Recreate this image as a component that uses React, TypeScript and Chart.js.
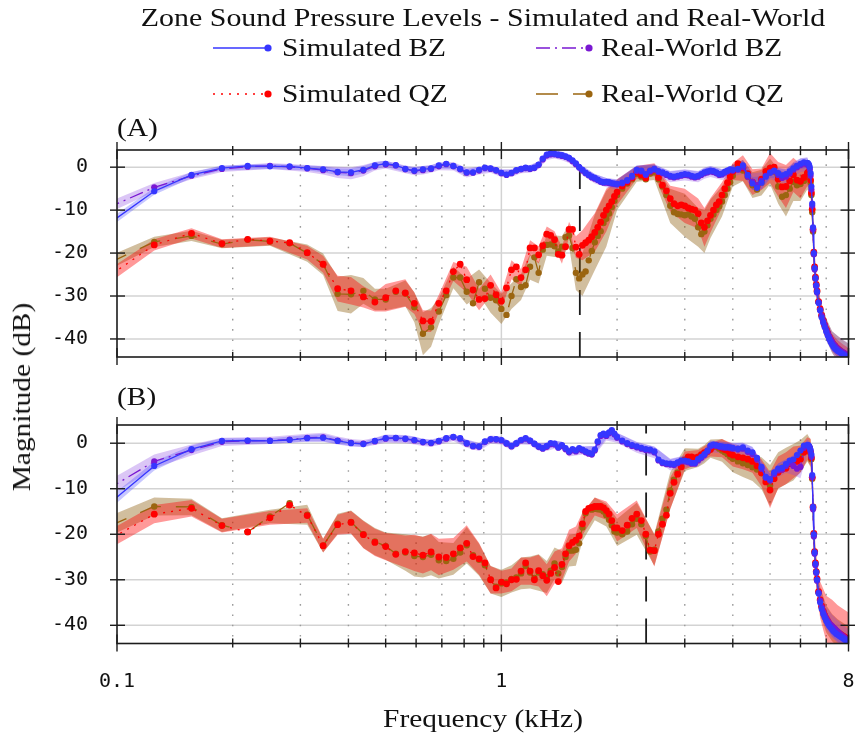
import React, { useEffect, useRef } from "react";
import { Chart, registerables } from "chart.js";

Chart.register(...registerables);

// ---------------- data (frequency in kHz, level in dB) ----------------
const FREQ_KHZ = [
  0.09375, 0.125, 0.15625, 0.1875, 0.21875, 0.25, 0.28125, 0.3125, 0.34375, 0.375,
  0.40625, 0.4375, 0.46875, 0.5, 0.53125, 0.5625, 0.59375, 0.625, 0.65625, 0.6875,
  0.71875, 0.75, 0.78125, 0.8125, 0.84375, 0.875, 0.90625, 0.9375, 0.96875, 1.0,
  1.03125, 1.0625, 1.09375, 1.125, 1.15625, 1.1875, 1.21875, 1.25, 1.28125, 1.3125,
  1.34375, 1.375, 1.40625, 1.4375, 1.46875, 1.5, 1.53125, 1.5625, 1.59375, 1.625,
  1.65625, 1.6875, 1.71875, 1.75, 1.78125, 1.8125, 1.84375, 1.875, 1.90625, 1.9375,
  1.96875, 2.0,
  2.0625, 2.125, 2.1875, 2.25, 2.3125, 2.375, 2.4375, 2.5, 2.5625, 2.625,
  2.6875, 2.75, 2.8125, 2.875, 2.9375, 3.0, 3.0625, 3.125, 3.1875, 3.25,
  3.3125, 3.375, 3.4375, 3.5, 3.5625, 3.625, 3.6875, 3.75, 3.8125, 3.875,
  3.9375, 4.0,
  4.125, 4.25, 4.375, 4.5, 4.625, 4.75, 4.875, 5.0, 5.125, 5.25,
  5.375, 5.5, 5.625, 5.75, 5.875, 6.0, 6.125, 6.25,
  6.28125, 6.3125, 6.34375, 6.375, 6.40625, 6.4375, 6.46875, 6.5, 6.53125, 6.5625, 6.59375, 6.625,
  6.6875, 6.75, 6.8125, 6.875, 6.9375, 7.0, 7.0625, 7.125, 7.1875, 7.25, 7.3125, 7.375, 7.4375, 7.5,
  7.5625, 7.625, 7.6875, 7.75, 7.8125, 7.875, 7.9375, 8.0,
];

// ---- panel (A) ----
const A_SIM_BZ = [
  -13.6, -5.6, -1.8, -0.2, 0.3, 0.2, 0.2, -0.2, -0.5, -1.1,
  -1.2, -0.6, 0.4, 0.8, 0.5, -0.4, -0.8, -0.5, -0.3, 0.4,
  0.8, 0.3, -0.4, -1.2, -1.2, -0.6, -0.1, -0.3, -0.7, -1.3,
  -1.7, -1.3, -0.7, -0.4, -0.1, -0.3, -0.1, 0.6, 2.0, 2.9,
  3.2, 3.1, 2.9, 2.8, 2.5, 2.2, 1.6, 0.9, 0.0, -0.6,
  -1.3, -1.8, -2.2, -2.5, -2.9, -3.3, -3.5, -3.4, -3.5, -3.7,
  -3.8, -3.9,
  -3.6, -3.0, -2.0, -0.6, -0.8, -1.6, -0.8, -0.4, -0.9, -1.2,
  -1.6, -2.0, -2.2, -2.0, -1.8, -1.6, -1.7, -2.0, -2.2, -2.0,
  -1.6, -1.2, -1.0, -0.8, -0.9, -1.2, -1.6, -1.5, -1.1, -0.8,
  -0.5, -0.6,
  -0.4, 0.4, -1.8, -3.8, -4.8, -3.6, -2.2, -1.3, -0.8, -1.4,
  -1.9, -1.6, -1.0, -0.3, 0.3, 0.8, 1.1, 1.0,
  0.9, 0.6, 0.0, -1.4, -4.5, -8.5, -14.0, -20.0, -23.5, -25.8, -27.5, -29.0,
  -31.6, -33.4, -35.0, -36.2, -37.3, -38.3, -39.2, -40.0, -40.7, -41.3, -41.8, -42.2, -42.5, -42.8,
  -43.0, -43.2, -43.4, -43.6, -43.8, -44.0, -44.2, -44.4,
];
const A_REAL_BZ = [
  -9.6, -4.7, -2.0, -0.4, 0.1, 0.3, 0.1, -0.3, -0.7, -1.2,
  -1.4, -0.8, 0.2, 0.6, 0.4, -0.5, -0.9, -0.7, -0.4, 0.2,
  0.7, 0.2, -0.5, -1.3, -1.3, -0.8, -0.2, -0.4, -0.8, -1.4,
  -1.8, -1.4, -0.8, -0.5, -0.2, -0.4, -0.2, 0.5, 1.8, 2.7,
  3.0, 3.0, 2.8, 2.6, 2.4, 2.0, 1.4, 0.7, -0.1, -0.8,
  -1.4, -1.9, -2.4, -2.7, -3.0, -3.4, -3.6, -3.6, -3.7, -3.8,
  -3.9, -4.0,
  -3.8, -3.2, -2.3, -0.9, -1.0, -1.8, -1.0, -0.6, -1.1, -1.4,
  -1.8, -2.2, -2.4, -2.2, -2.0, -1.8, -1.9, -2.2, -2.4, -2.2,
  -1.8, -1.4, -1.2, -1.0, -1.1, -1.4, -1.8, -1.7, -1.3, -1.0,
  -0.7, -0.8,
  -0.6, 0.0, -2.2, -3.4, -4.2, -3.2, -2.0, -1.2, -1.0, -1.8,
  -2.5, -2.2, -1.5, -0.6, 0.0, 0.5, 0.8, 0.7,
  0.5, 0.2, -0.5, -2.0, -5.2, -9.0, -14.5, -20.3, -23.8, -26.0, -27.7, -29.2,
  -31.5, -33.2, -34.6, -35.8, -36.8, -37.8, -38.6, -39.4, -40.1, -40.7, -41.2, -41.6, -42.0, -42.3,
  -42.6, -42.8, -43.0, -43.2, -43.4, -43.6, -43.8, -44.0,
];
const A_SIM_QZ = [
  -25.8, -18.1, -15.4, -17.8, -16.8, -17.2, -17.6, -19.9, -22.6, -28.3,
  -28.8, -30.2, -31.4, -30.4, -28.8, -29.3, -31.7, -35.8, -35.9, -31.7,
  -28.8, -24.3, -22.6, -26.2, -28.6, -30.8, -30.6, -27.5, -29.7, -31.2,
  -28.1, -23.9, -23.2, -25.7, -23.9, -18.8, -18.8, -20.4, -18.3, -15.6,
  -15.9, -16.9, -20.3, -20.5, -18.5, -14.5, -14.5, -18.6, -20.3, -18.2,
  -17.6, -17.0, -16.2, -15.2, -14.0, -12.8, -11.2, -10.0, -9.0, -8.0,
  -6.8, -5.8,
  -4.4, -3.5, -2.5, -1.2, -1.8, -2.5, -1.0, -0.6, -2.4, -4.2,
  -5.5, -7.3, -8.5, -9.0, -8.8, -9.0, -9.5, -9.8, -10.0, -10.8,
  -13.0, -14.0, -12.5, -11.2, -10.0, -8.8, -8.0, -6.5, -5.0, -3.6,
  -2.2, -1.0,
  0.8, -0.2, -1.5, -3.5, -4.5, -2.8, -1.0, -0.2, 0.0, -2.8,
  -4.6, -4.5, -3.2, -1.8, -3.0, -3.3, -2.4, -1.4,
  -1.2, -1.0, -1.6, -3.0, -6.0, -9.8, -14.5, -19.8, -23.2, -25.6, -27.3, -28.8,
  -31.3, -33.0, -34.5, -35.7, -36.8, -37.8, -38.7, -39.5, -40.2, -40.8, -41.3, -41.7, -42.0, -42.3,
  -42.6, -42.9, -43.1, -43.3, -43.5, -43.7, -43.9, -44.1,
];
const A_REAL_QZ = [
  -22.6, -17.4, -16.0, -17.9, -16.9, -17.3, -17.7, -20.0, -22.6, -29.5,
  -29.6, -28.8, -30.8, -30.8, -29.0, -29.4, -32.6, -38.8, -37.3, -33.6,
  -29.8, -25.7, -25.7, -29.0, -31.7, -26.8, -28.3, -30.4, -31.0, -33.0,
  -34.4, -30.0, -26.1, -27.9, -27.5, -23.2, -21.0, -24.6, -19.2, -18.1,
  -18.0, -18.4, -19.6, -18.5, -16.3, -15.9, -18.8, -24.6, -25.9, -25.0,
  -24.3, -21.7, -19.5, -17.5, -16.0, -14.9, -13.0, -12.0, -10.8, -9.3,
  -7.8, -6.5,
  -5.0, -3.8, -2.8, -1.6, -2.2, -2.8, -1.5, -1.2, -2.8, -4.5,
  -6.5, -9.0, -10.5, -10.9, -11.0, -11.2, -11.0, -11.5, -12.0, -14.0,
  -15.6, -15.0, -13.5, -12.0, -11.0, -10.0, -9.1, -8.0, -6.5, -5.0,
  -3.5, -2.0,
  0.2, -0.8, -2.2, -4.2, -5.2, -3.6, -1.8, -1.0, -1.0, -4.5,
  -6.9, -6.5, -5.0, -3.4, -4.2, -3.9, -3.2, -2.2,
  -2.0, -1.8, -2.4, -3.6, -6.5, -10.5, -15.0, -20.2, -23.5, -25.9, -27.6, -29.0,
  -31.4, -33.1, -34.6, -35.8, -36.8, -37.7, -38.6, -39.4, -40.1, -40.7, -41.2, -41.6, -42.0, -42.3,
  -42.6, -42.9, -43.1, -43.3, -43.5, -43.7, -43.9, -44.1,
];

// ---- panel (B) ----
const B_SIM_BZ = [
  -13.8, -5.0, -1.3, 0.5, 0.6, 0.5, 0.7, 1.1, 1.2, 0.5,
  0.0, -0.2, 0.5, 1.1, 1.2, 1.0, 0.7, 0.3, 0.1, 0.5,
  1.1, 1.4, 1.1, 0.0, -0.6, -0.7, 0.4, 0.9, 0.9, 0.7,
  0.0, -0.6, 0.0, 0.7, 1.1, 0.6, -0.1, -0.7, -1.1, -0.6,
  0.0, -0.1, -0.9, -0.4, -1.1, -1.8, -1.3, -1.6, -1.1, -1.4,
  -1.8, -2.1, -2.3, -1.4, 0.4, 1.8, 2.1, 1.8, 2.4, 2.9,
  2.1, 1.4,
  0.6, 0.0, -0.4, -0.7, -1.0, -1.3, -1.4, -1.8, -3.6, -4.2,
  -4.4, -4.5, -4.6, -4.2, -3.8, -3.8, -4.0, -4.3, -4.3, -3.5,
  -3.0, -2.4, -1.6, -0.5, -0.3, -0.4, -0.6, -0.7, -0.8, -0.8,
  -0.9, -1.0,
  -1.2, -0.9, -1.6, -2.0, -3.2, -5.2, -7.4, -7.9, -6.4, -5.6,
  -5.4, -4.6, -3.8, -3.6, -2.6, -1.6, -0.5, -0.4,
  -0.4, -0.6, -0.9, -1.5, -2.5, -7.0, -14.0, -20.0, -24.0, -26.5, -28.3, -30.0,
  -33.0, -35.0, -36.4, -37.5, -38.3, -39.0, -39.6, -40.1, -40.5, -40.9, -41.3, -41.6, -41.9, -42.1,
  -42.3, -42.5, -42.7, -42.9, -43.1, -43.3, -43.5, -43.7,
];
const B_REAL_BZ = [
  -10.3, -4.0, -1.5, 0.3, 0.5, 0.6, 0.8, 1.2, 1.3, 0.6,
  0.1, -0.1, 0.4, 1.0, 1.1, 0.9, 0.6, 0.2, 0.0, 0.4,
  1.0, 1.3, 1.0, -0.1, -0.7, -0.8, 0.3, 0.8, 0.8, 0.6,
  -0.1, -0.7, -0.1, 0.6, 1.0, 0.5, -0.2, -0.8, -1.2, -0.8,
  -0.2, -0.3, -1.0, -0.6, -1.3, -2.0, -1.5, -1.8, -1.3, -1.6,
  -2.0, -2.3, -2.5, -1.6, 0.2, 1.6, 1.9, 1.6, 2.2, 2.7,
  1.9, 1.2,
  0.4, -0.2, -0.6, -0.9, -1.2, -1.5, -1.6, -2.0, -3.8, -4.4,
  -4.6, -4.7, -4.8, -4.4, -4.0, -4.0, -4.2, -4.5, -4.5, -3.8,
  -3.2, -2.6, -1.8, -0.7, -0.5, -0.6, -0.8, -0.9, -1.0, -1.0,
  -1.1, -1.2,
  -1.4, -1.2, -1.9, -2.4, -3.6, -5.6, -7.6, -8.2, -6.8, -6.0,
  -5.8, -5.0, -4.4, -5.0, -5.6, -5.2, -1.0, -0.6,
  -0.6, -0.8, -1.2, -1.8, -3.0, -7.5, -14.5, -20.5, -24.3, -26.8, -28.5, -30.2,
  -32.8, -34.6, -36.0, -37.0, -37.8, -38.5, -39.0, -39.5, -39.9, -40.2, -40.5, -40.8, -41.1, -41.4,
  -41.7, -42.0, -42.2, -42.5, -42.7, -42.9, -43.1, -43.3,
];
const B_SIM_QZ = [
  -21.5, -15.6, -14.3, -18.1, -19.5, -16.4, -13.6, -15.9, -22.5, -17.9,
  -17.4, -20.1, -21.8, -22.7, -24.4, -23.8, -24.1, -24.6, -23.9, -25.0,
  -25.1, -24.3, -23.0, -22.0, -24.9, -25.4, -26.3, -30.0, -31.8, -30.5,
  -30.9, -30.0, -29.9, -28.1, -26.3, -28.1, -30.0, -28.0, -29.1, -30.1,
  -28.6, -27.3, -30.4, -26.6, -24.3, -22.5, -21.8, -21.3, -20.4, -17.7,
  -15.0, -14.3, -14.1, -13.9, -13.9, -13.9, -14.2, -14.8, -15.6, -17.0,
  -18.6, -18.6,
  -19.2, -18.0, -16.5, -15.6, -17.0, -20.0, -23.5, -23.6, -20.0, -17.8,
  -15.8, -11.0, -8.6, -6.8, -5.2, -3.8, -3.0, -3.0, -3.2, -3.0,
  -2.5, -2.1, -1.8, -1.4, -0.6, -0.5, -0.8, -1.1, -1.4, -1.6,
  -2.3, -2.6,
  -3.0, -3.2, -3.5, -4.0, -5.0, -6.5, -8.5, -10.3, -7.8, -6.4,
  -5.7, -5.5, -4.5, -4.2, -4.0, -3.5, -2.0, -1.2,
  -0.9, -0.8, -1.2, -2.0, -3.2, -7.5, -14.0, -19.8, -23.8, -26.3, -28.2, -29.8,
  -32.6, -34.4, -35.8, -36.9, -37.8, -38.5, -39.1, -39.6, -40.0, -40.4, -40.7, -41.0, -41.3, -41.6,
  -41.8, -42.0, -42.2, -42.4, -42.6, -42.8, -43.0, -43.2,
];
const B_REAL_QZ = [
  -18.5, -13.9, -14.0, -18.0, -19.5, -16.1, -13.2, -15.7, -22.5, -17.7,
  -17.3, -20.0, -21.6, -22.6, -24.3, -24.0, -24.8, -25.0, -24.5, -25.7,
  -25.9, -25.4, -24.0, -22.4, -24.6, -25.6, -26.8, -30.0, -31.5, -30.8,
  -30.6, -29.8, -29.5, -28.6, -27.0, -28.4, -29.6, -28.4, -28.8, -29.4,
  -28.0, -26.4, -28.6, -27.2, -25.0, -23.6, -23.6, -23.4, -22.0, -18.5,
  -15.4, -14.5, -14.6, -14.4, -14.5, -14.6, -15.0, -15.8, -16.8, -18.0,
  -19.4, -19.6,
  -20.0, -19.4, -17.8, -16.6, -17.8, -20.4, -23.8, -23.4, -19.4, -16.6,
  -14.6, -10.4, -8.0, -6.4, -5.0, -3.6, -3.3, -3.4, -3.6, -3.2,
  -2.8, -2.4, -1.8, -1.2, -0.8, -0.8, -1.2, -1.6, -2.0, -2.4,
  -3.0, -3.4,
  -4.0, -4.4, -4.8, -5.3, -5.8, -6.6, -7.8, -9.3, -7.0, -6.0,
  -5.4, -5.0, -4.4, -4.2, -3.6, -2.8, -1.6, -1.0,
  -0.8, -0.8, -1.3, -2.2, -3.5, -7.8, -14.2, -20.0, -24.0, -26.5, -28.3, -30.0,
  -32.8, -34.6, -36.0, -37.0, -37.9, -38.6, -39.2, -39.7, -40.1, -40.5, -40.8, -41.1, -41.4, -41.7,
  -41.9, -42.1, -42.3, -42.5, -42.7, -42.9, -43.1, -43.3,
];

// ---- spread (half-width, dB) of the shaded min/max band, at these frequencies ----
const BAND_F = [
  0.09375, 0.125, 0.15625, 0.1875, 0.25, 0.3125, 0.34375, 0.375, 0.40625, 0.4375,
  0.46875, 0.5, 0.5625, 0.59375, 0.625, 0.65625, 0.6875, 0.75, 0.8125, 0.875,
  0.9375, 1.0, 1.0625, 1.125, 1.1875, 1.25, 1.3125, 1.375, 1.4375, 1.5,
  1.5625, 1.625, 1.75, 1.875, 2.0, 2.25, 2.5, 2.75, 3.0, 3.25,
  3.375, 3.5, 3.75, 4.0, 4.25, 4.5, 4.75, 5.0, 5.25, 5.5,
  5.75, 6.0, 6.25, 6.375, 6.4375, 6.5, 6.5625, 6.625, 6.75, 7.0,
  7.25, 7.5, 7.75, 8.0,
];
const A_SIM_BZ_SPREAD = [
  1.0, 0.8, 0.7, 0.6, 0.6, 0.6, 0.7, 0.8, 0.9, 0.9,
  0.8, 0.7, 0.7, 0.8, 0.8, 0.7, 0.7, 0.7, 0.8, 0.7,
  0.7, 0.7, 0.7, 0.7, 0.7, 0.7, 0.8, 0.8, 0.8, 0.8,
  0.8, 0.9, 0.9, 0.9, 1.0, 1.0, 1.0, 1.0, 1.0, 1.0,
  1.0, 1.0, 1.0, 1.0, 1.3, 1.5, 1.5, 1.2, 1.2, 1.2,
  1.2, 1.2, 1.2, 1.5, 3.0, 3.0, 2.5, 2.0, 1.5, 1.5,
  1.5, 1.5, 1.5, 1.5,
];
const A_REAL_BZ_SPREAD = [
  1.3, 1.0, 0.8, 0.7, 0.7, 0.8, 1.0, 1.3, 1.4, 1.3,
  1.0, 0.9, 0.9, 1.0, 1.0, 0.9, 0.9, 1.0, 1.1, 0.9,
  0.9, 0.9, 0.9, 0.9, 0.9, 0.9, 1.0, 1.0, 1.0, 1.0,
  1.0, 1.1, 1.1, 1.1, 1.2, 1.3, 1.3, 1.3, 1.3, 1.3,
  1.3, 1.3, 1.3, 1.3, 1.6, 2.0, 2.0, 1.6, 1.6, 1.6,
  1.8, 1.6, 1.6, 2.0, 3.5, 3.5, 3.0, 2.5, 2.5, 2.5,
  2.5, 3.0, 3.0, 3.0,
];
const A_SIM_QZ_SPREAD = [
  1.6, 1.3, 1.2, 1.0, 1.0, 1.6, 2.0, 3.0, 3.2, 2.5,
  2.2, 3.2, 3.2, 2.5, 2.5, 2.5, 2.0, 2.2, 3.0, 2.5,
  2.5, 2.0, 2.2, 2.0, 1.8, 2.0, 1.8, 2.0, 2.0, 1.8,
  2.5, 3.5, 4.5, 5.0, 3.0, 1.5, 1.5, 3.0, 4.0, 3.5,
  4.5, 4.0, 3.0, 2.0, 3.0, 3.0, 2.5, 3.5, 4.0, 5.0,
  4.0, 4.0, 3.0, 3.0, 4.0, 4.0, 3.0, 2.5, 2.0, 2.0,
  2.0, 2.0, 2.0, 2.0,
];
const A_REAL_QZ_SPREAD = [
  1.6, 1.2, 1.2, 1.0, 1.0, 2.0, 2.5, 4.0, 4.5, 3.0,
  2.5, 2.5, 3.0, 3.5, 5.0, 4.5, 3.0, 2.5, 3.0, 3.0,
  3.5, 3.5, 3.0, 3.0, 3.0, 2.5, 2.5, 2.5, 2.5, 2.5,
  4.0, 5.0, 6.5, 6.5, 3.5, 1.8, 1.8, 4.0, 5.0, 4.5,
  5.0, 4.5, 3.5, 2.5, 2.5, 3.0, 3.0, 3.0, 4.0, 5.0,
  4.5, 4.0, 3.0, 3.0, 4.0, 4.0, 3.0, 2.5, 2.5, 2.5,
  2.5, 3.0, 3.0, 3.0,
];
const B_SIM_BZ_SPREAD = [
  1.3, 1.0, 0.8, 0.6, 0.6, 0.7, 0.8, 0.7, 0.6, 0.6,
  0.6, 0.7, 0.7, 0.7, 0.6, 0.6, 0.6, 0.6, 0.7, 0.7,
  0.7, 0.7, 0.7, 0.7, 0.7, 0.7, 0.7, 0.7, 0.7, 0.7,
  0.7, 0.7, 0.8, 0.8, 0.9, 0.9, 1.0, 1.0, 1.0, 1.0,
  1.0, 1.0, 1.0, 1.0, 1.0, 1.2, 1.2, 1.2, 1.2, 1.0,
  1.0, 1.0, 1.0, 1.5, 3.0, 3.0, 2.5, 2.0, 1.5, 1.5,
  1.5, 1.5, 1.5, 1.5,
];
const B_REAL_BZ_SPREAD = [
  1.8, 1.5, 1.2, 0.9, 0.8, 0.9, 1.0, 0.9, 0.8, 0.8,
  0.8, 0.9, 0.9, 0.9, 0.8, 0.8, 0.8, 0.8, 0.9, 0.9,
  0.9, 0.9, 0.9, 0.9, 0.9, 0.9, 0.9, 0.9, 0.9, 0.9,
  0.9, 0.9, 1.0, 1.0, 1.1, 1.2, 1.3, 1.3, 1.3, 1.3,
  1.3, 1.3, 1.3, 1.3, 1.3, 1.5, 1.5, 1.5, 1.5, 1.5,
  2.0, 2.5, 1.5, 2.0, 3.5, 3.5, 3.0, 2.5, 2.5, 2.5,
  2.5, 2.5, 2.5, 2.5,
];
const B_SIM_QZ_SPREAD = [
  2.0, 2.0, 1.8, 1.5, 1.5, 1.6, 1.5, 2.2, 2.5, 3.0,
  3.0, 3.0, 3.5, 4.0, 4.0, 4.0, 4.0, 3.5, 4.0, 3.5,
  3.0, 2.5, 2.5, 3.0, 3.0, 3.5, 3.5, 3.5, 3.5, 3.5,
  3.0, 2.5, 2.0, 2.0, 3.0, 3.0, 3.5, 3.5, 2.0, 1.5,
  1.5, 1.5, 2.0, 2.5, 2.5, 2.5, 3.0, 4.0, 3.5, 3.5,
  3.5, 3.0, 2.5, 3.0, 4.0, 4.0, 3.5, 3.5, 4.0, 5.0,
  6.0, 6.0, 6.0, 6.0,
];
const B_REAL_QZ_SPREAD = [
  2.2, 2.0, 1.8, 1.5, 1.5, 2.2, 1.5, 2.2, 2.5, 3.0,
  3.0, 3.0, 4.0, 4.5, 4.5, 4.5, 4.0, 3.5, 4.0, 3.5,
  3.0, 3.0, 3.0, 3.5, 3.5, 4.0, 3.5, 3.5, 3.5, 3.5,
  3.5, 3.0, 2.5, 2.5, 3.0, 3.5, 3.5, 4.0, 2.5, 2.0,
  2.0, 2.0, 2.5, 3.0, 3.0, 3.0, 3.5, 4.5, 4.0, 4.0,
  4.0, 3.5, 3.0, 3.0, 4.0, 4.0, 3.5, 3.0, 3.0, 3.0,
  3.0, 3.0, 3.0, 3.0,
];

const Y_TICKS = [-40, -30, -20, -10, 0];
const X_TICK_LABELS = [0.1, 1, 8];
const MINOR_FREQS = [0.2, 0.3, 0.4, 0.5, 0.6, 0.7, 0.8, 0.9, 2, 3, 4, 5, 6, 7];
const SPLIT_A_KHZ = 1.6;
const SPLIT_B_KHZ = 2.38;

const LABELS = {
  simBZ: "Simulated BZ",
  realBZ: "Real-World BZ",
  simQZ: "Simulated QZ",
  realQZ: "Real-World QZ",
};

// ---------------- styling ----------------
const STYLE: any = {
  simBZ: { color: "#3636ff", band: "rgba(70,70,255,0.30)", dash: [], radius: 3.1, order: 1 },
  realBZ: { color: "#7a18d2", band: "rgba(135,65,225,0.30)", dash: [14, 5, 2, 5], radius: 3.1, order: 2 },
  simQZ: { color: "#ff0000", band: "rgba(255,0,0,0.40)", dash: [2, 6], radius: 3.4, order: 3 },
  realQZ: { color: "#9b6510", band: "rgba(135,85,0,0.38)", dash: [22, 15], radius: 3.2, order: 4 },
};
const TICK_FONT = { family: '"DejaVu Sans Mono", monospace', size: 20 };
const SERIF = '"Liberation Serif", "Times New Roman", serif';

function buildDatasets(values: any, spreads: any) {
  const ds: any[] = [];
  const bandSeq = ["realQZ", "simQZ", "realBZ", "simBZ"];
  const idx = BAND_F.map((f) => FREQ_KHZ.indexOf(f));
  bandSeq.forEach((k, i) => {
    const v = values[k];
    const s = spreads[k];
    ds.push({
      data: BAND_F.map((f, j) => ({ x: f, y: v[idx[j]] - s[j] })),
      borderWidth: 0,
      borderColor: "rgba(0,0,0,0)",
      backgroundColor: "rgba(0,0,0,0)",
      pointRadius: 0,
      fill: false,
      order: 40 - i * 2,
    });
    ds.push({
      data: BAND_F.map((f, j) => ({ x: f, y: v[idx[j]] + s[j] })),
      borderWidth: 0,
      borderColor: "rgba(0,0,0,0)",
      backgroundColor: STYLE[k].band,
      pointRadius: 0,
      fill: "-1",
      order: 39 - i * 2,
    });
  });
  ["realQZ", "simQZ", "realBZ", "simBZ"].forEach((k) => {
    const st = STYLE[k];
    ds.push({
      label: (LABELS as any)[k],
      data: FREQ_KHZ.map((f, i) => ({ x: f, y: values[k][i] })),
      borderColor: st.color,
      backgroundColor: st.color,
      borderWidth: 1.3,
      borderDash: st.dash,
      pointRadius: st.radius,
      pointBackgroundColor: st.color,
      pointBorderWidth: 0,
      pointHoverRadius: st.radius,
      fill: false,
      tension: 0,
      order: st.order,
    });
  });
  return ds;
}

function framePlugin(split: number) {
  return {
    id: "frameGrid",
    beforeDatasetsDraw(chart: any) {
      const { ctx, chartArea: a } = chart;
      const xs = chart.scales.x;
      const ys = chart.scales.y;
      ctx.save();
      ctx.strokeStyle = "#d3d3d3";
      ctx.lineWidth = 1.5;
      for (const v of Y_TICKS) {
        const py = ys.getPixelForValue(v);
        ctx.beginPath();
        ctx.moveTo(a.left, py);
        ctx.lineTo(a.right, py);
        ctx.stroke();
      }
      const p1 = xs.getPixelForValue(1);
      ctx.beginPath();
      ctx.moveTo(p1, a.top);
      ctx.lineTo(p1, a.bottom);
      ctx.stroke();
      ctx.strokeStyle = "#9c9c9c";
      ctx.lineWidth = 1.4;
      ctx.setLineDash([1.6, 8.7]);
      for (const f of MINOR_FREQS) {
        const px = xs.getPixelForValue(f);
        ctx.beginPath();
        ctx.moveTo(px, a.top + 4);
        ctx.lineTo(px, a.bottom);
        ctx.stroke();
      }
      ctx.strokeStyle = "#1c1c1c";
      ctx.lineWidth = 1.8;
      ctx.setLineDash([25, 17]);
      const ps = xs.getPixelForValue(split);
      ctx.beginPath();
      ctx.moveTo(ps, a.bottom);
      ctx.lineTo(ps, a.top);
      ctx.stroke();
      ctx.restore();
    },
    afterDatasetsDraw(chart: any) {
      const { ctx, chartArea: a } = chart;
      const xs = chart.scales.x;
      const ys = chart.scales.y;
      ctx.save();
      ctx.setLineDash([]);
      ctx.strokeStyle = "#1c1c1c";
      ctx.lineWidth = 1.6;
      ctx.strokeRect(a.left, a.top, a.right - a.left, a.bottom - a.top);
      ctx.lineWidth = 1.4;
      const seg = (x0: number, y0: number, x1: number, y1: number) => {
        ctx.beginPath();
        ctx.moveTo(x0, y0);
        ctx.lineTo(x1, y1);
        ctx.stroke();
      };
      for (const v of Y_TICKS) {
        const py = ys.getPixelForValue(v);
        seg(a.left - 7, py, a.left + 8, py);
        seg(a.right - 8, py, a.right + 7, py);
      }
      for (const f of MINOR_FREQS) {
        const px = xs.getPixelForValue(f);
        seg(px, a.top - 4, px, a.top + 5);
        seg(px, a.bottom - 5, px, a.bottom + 4);
      }
      for (const f of X_TICK_LABELS) {
        const px = xs.getPixelForValue(f);
        seg(px, a.top - 8, px, a.top + 9);
        seg(px, a.bottom - 9, px, a.bottom + 8);
      }
      ctx.restore();
    },
  };
}

const legendPlugin = {
  id: "legendSamples",
  afterDraw(chart: any) {
    const ctx = chart.ctx;
    const rows = [
      { k: "simBZ", x0: 213, x1: 268, y: 48 },
      { k: "realBZ", x0: 536, x1: 589, y: 48 },
      { k: "simQZ", x0: 213, x1: 268, y: 94 },
      { k: "realQZ", x0: 536, x1: 589, y: 94 },
    ];
    for (const r of rows) {
      const st = STYLE[r.k];
      ctx.save();
      ctx.strokeStyle = st.color;
      ctx.lineWidth = 1.4;
      ctx.setLineDash(st.dash);
      ctx.beginPath();
      ctx.moveTo(r.x0, r.y);
      ctx.lineTo(r.x1, r.y);
      ctx.stroke();
      ctx.setLineDash([]);
      ctx.fillStyle = st.color;
      ctx.beginPath();
      ctx.arc(r.x1, r.y, 3.6, 0, Math.PI * 2);
      ctx.fill();
      ctx.restore();
    }
  },
};

function makeConfig(values: any, spreads: any, o: any) {
  return {
    type: "line",
    data: { datasets: buildDatasets(values, spreads) },
    options: {
      responsive: false,
      animation: false,
      devicePixelRatio: 1,
      events: [],
      layout: { padding: o.padding },
      plugins: {
        legend: { display: false },
        tooltip: { enabled: false },
        title: { display: false },
      },
      scales: {
        x: {
          type: "logarithmic",
          min: 0.1,
          max: 8,
          display: o.showX,
          grid: { display: false },
          border: { display: false },
          afterBuildTicks: (s: any) => {
            s.ticks = X_TICK_LABELS.map((v) => ({ value: v }));
          },
          afterFit: (s: any) => {
            s.height = o.showX ? 50 : 0;
            s.paddingLeft = 0;
            s.paddingRight = 0;
          },
          ticks: {
            autoSkip: false,
            maxRotation: 0,
            minRotation: 0,
            padding: 18,
            color: "#111",
            font: TICK_FONT,
            callback: (v: any) => String(v),
          },
        },
        y: {
          type: "linear",
          min: o.yMin,
          max: 4,
          grid: { display: false },
          border: { display: false },
          afterBuildTicks: (s: any) => {
            s.ticks = Y_TICKS.map((v) => ({ value: v }));
          },
          afterFit: (s: any) => {
            s.width = 117;
          },
          ticks: {
            padding: 21,
            color: "#111",
            font: TICK_FONT,
            callback: (v: any) => String(v),
          },
        },
      },
    },
    plugins: o.legend ? [framePlugin(o.split), legendPlugin] : [framePlugin(o.split)],
  };
}

function Txt(props: any) {
  return (
    <div
      style={{
        position: "absolute",
        fontFamily: SERIF,
        fontSize: 26,
        lineHeight: "30px",
        color: "#111",
        whiteSpace: "nowrap",
        ...props.style,
      }}
    >
      {props.children}
    </div>
  );
}

export default function App() {
  const refA = useRef<HTMLCanvasElement>(null);
  const refB = useRef<HTMLCanvasElement>(null);

  useEffect(() => {
    const a = new Chart(
      refA.current as any,
      makeConfig(
        { simBZ: A_SIM_BZ, realBZ: A_REAL_BZ, simQZ: A_SIM_QZ, realQZ: A_REAL_QZ },
        { simBZ: A_SIM_BZ_SPREAD, realBZ: A_REAL_BZ_SPREAD, simQZ: A_SIM_QZ_SPREAD, realQZ: A_REAL_QZ_SPREAD },
        { yMin: -44.2, showX: false, split: SPLIT_A_KHZ, legend: true, padding: { top: 150, left: 0, right: 6.5, bottom: 18.5 } }
      ) as any
    );
    const b = new Chart(
      refB.current as any,
      makeConfig(
        { simBZ: B_SIM_BZ, realBZ: B_REAL_BZ, simQZ: B_SIM_QZ, realQZ: B_REAL_QZ },
        { simBZ: B_SIM_BZ_SPREAD, realBZ: B_REAL_BZ_SPREAD, simQZ: B_SIM_QZ_SPREAD, realQZ: B_REAL_QZ_SPREAD },
        { yMin: -44.0, showX: true, split: SPLIT_B_KHZ, legend: false, padding: { top: 27.5, left: 0, right: 6.5, bottom: 46.5 } }
      ) as any
    );
    return () => {
      a.destroy();
      b.destroy();
    };
  }, []);

  const left = { transformOrigin: "left center", transform: "scaleX(1.13)" };

  return (
    <div style={{ position: "absolute", left: 0, top: 0, width: 855, height: 740, background: "#fff", overflow: "hidden" }}>
      <canvas ref={refA} width={855} height={390} style={{ position: "absolute", left: 0, top: 0, width: 855, height: 390 }} />
      <canvas ref={refB} width={855} height={348} style={{ position: "absolute", left: 0, top: 392, width: 855, height: 348 }} />

      <Txt style={{ left: 483, top: 3, transform: "translateX(-50%) scaleX(1.15)" }}>
        Zone Sound Pressure Levels - Simulated and Real-World
      </Txt>
      <Txt style={{ left: 282, top: 33, ...left }}>{LABELS.simBZ}</Txt>
      <Txt style={{ left: 601, top: 33, ...left }}>{LABELS.realBZ}</Txt>
      <Txt style={{ left: 282, top: 79, ...left }}>{LABELS.simQZ}</Txt>
      <Txt style={{ left: 601, top: 79, ...left }}>{LABELS.realQZ}</Txt>

      <Txt style={{ left: 117, top: 113, ...left }}>(A)</Txt>
      <Txt style={{ left: 117, top: 382, ...left }}>(B)</Txt>

      <Txt style={{ left: 22, top: 397, transform: "translate(-50%, -50%) rotate(-90deg) scaleX(1.13)" }}>
        Magnitude (dB)
      </Txt>
      <Txt style={{ left: 483, top: 704, transform: "translateX(-50%) scaleX(1.13)" }}>Frequency (kHz)</Txt>
    </div>
  );
}
